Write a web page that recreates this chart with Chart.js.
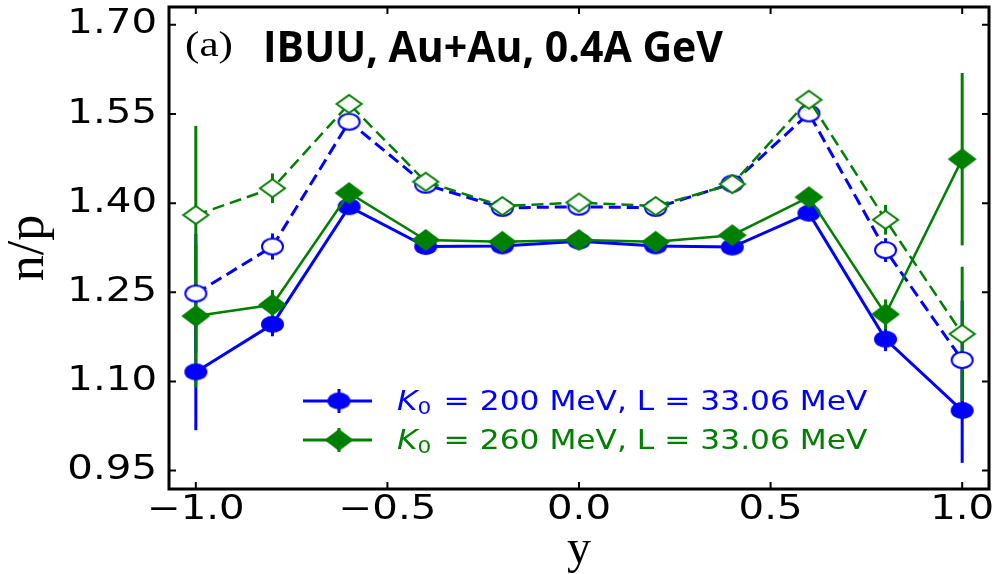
<!DOCTYPE html>
<html>
<head>
<meta charset="utf-8">
<script src="https://cdn.jsdelivr.net/npm/chart.js@4.4.0/dist/chart.umd.min.js"></script>
<style>
  html, body { margin: 0; padding: 0; background: #fff; }
</style>
</head>
<body>
<canvas id="np-chart" width="1001" height="574"></canvas>
<script>
// values
const rapidity = [-1.0, -0.8, -0.6, -0.4, -0.2, 0.0, 0.2, 0.4, 0.6, 0.8, 1.0];

// K0 = 200 MeV (blue)
const k200Solid  = [1.116, 1.196, 1.394, 1.327, 1.328, 1.336, 1.328, 1.326, 1.383, 1.171, 1.051];
const k200SolidErr = [0.098, 0.02, 0.01, 0.01, 0.01, 0.01, 0.01, 0.01, 0.01, 0.02, 0.088];
const k200Dashed = [1.248, 1.327, 1.537, 1.431, 1.392, 1.394, 1.392, 1.433, 1.551, 1.321, 1.136];
const k200DashedErr = [0.10, 0.022, 0.01, 0.01, 0.01, 0.01, 0.01, 0.01, 0.01, 0.02, 0.10];

// K0 = 260 MeV (green)
const k260Solid  = [1.210, 1.229, 1.417, 1.338, 1.335, 1.338, 1.335, 1.346, 1.410, 1.213, 1.474];
const k260SolidErr = [0.12, 0.025, 0.01, 0.01, 0.01, 0.01, 0.01, 0.01, 0.01, 0.025, 0.145];
const k260Dashed = [1.380, 1.425, 1.567, 1.436, 1.395, 1.401, 1.395, 1.432, 1.574, 1.372, 1.180];
const k260DashedErr = [0.15, 0.025, 0.01, 0.01, 0.01, 0.01, 0.01, 0.01, 0.01, 0.025, 0.113];

const xTickValues = [-1.0, -0.5, 0.0, 0.5, 1.0];
const xTickLabels = ['\u22121.0', '\u22120.5', '0.0', '0.5', '1.0'];
const yTickValues = [0.95, 1.10, 1.25, 1.40, 1.55, 1.70];
const yTickLabels = ['0.95', '1.10', '1.25', '1.40', '1.55', '1.70'];

const legendK0 = ['200', '260'];
const legendL  = '33.06';

const BLUE  = '#0000ff';
const GREEN = '#008000';

// small canvases used as point styles (the figure is stretched horizontally)
function ellipseMarker(w, h, fill, stroke, lw){
  const c = document.createElement('canvas');
  c.width = w + 2; c.height = h + 2;
  const g = c.getContext('2d');
  g.beginPath();
  g.ellipse(c.width/2, c.height/2, w/2 - lw/2, h/2 - lw/2, 0, 0, Math.PI*2);
  g.fillStyle = fill; g.fill();
  if(stroke){ g.strokeStyle = stroke; g.lineWidth = lw; g.stroke(); }
  return c;
}
function diamondMarker(w, h, fill, stroke, lw){
  const c = document.createElement('canvas');
  c.width = w + 2; c.height = h + 2;
  const g = c.getContext('2d');
  const cx = c.width/2, cy = c.height/2, a = w/2 - lw/2, b = h/2 - lw/2;
  g.beginPath();
  g.moveTo(cx, cy - b); g.lineTo(cx + a, cy); g.lineTo(cx, cy + b); g.lineTo(cx - a, cy);
  g.closePath();
  g.fillStyle = fill; g.fill();
  if(stroke){ g.strokeStyle = stroke; g.lineWidth = lw; g.lineJoin = 'miter'; g.stroke(); }
  return c;
}

const blueDot     = ellipseMarker(23, 17, BLUE, null, 0);
const blueRing    = ellipseMarker(23, 18, '#fff', BLUE, 2);
const greenDiam   = diamondMarker(29, 22, GREEN, null, 0);
const greenOpenDi = diamondMarker(27, 20, '#fff', GREEN, 2);

function pts(ys){ return rapidity.map((x, i) => ({ x, y: ys[i] })); }

const errorSets = [
  { ys: k200Solid,  err: k200SolidErr,  color: BLUE },
  { ys: k200Dashed, err: k200DashedErr, color: BLUE },
  { ys: k260Solid,  err: k260SolidErr,  color: GREEN },
  { ys: k260Dashed, err: k260DashedErr, color: GREEN }
];

// error bars go under every marker, like matplotlib
const errorBars = {
  id: 'errorBars',
  beforeDatasetsDraw(chart){
    const { ctx, scales: { x, y }, chartArea } = chart;
    ctx.save();
    ctx.beginPath();
    ctx.rect(chartArea.left, chartArea.top, chartArea.width, chartArea.height);
    ctx.clip();
    ctx.lineWidth = 3;
    errorSets.forEach(s => {
      ctx.strokeStyle = s.color;
      rapidity.forEach((xv, i) => {
        const px = x.getPixelForValue(xv);
        ctx.beginPath();
        ctx.moveTo(px, y.getPixelForValue(s.ys[i] - s.err[i]));
        ctx.lineTo(px, y.getPixelForValue(s.ys[i] + s.err[i]));
        ctx.stroke();
      });
    });
    ctx.restore();
  }
};

function stretchedText(ctx, text, x, y, sx){
  ctx.save();
  ctx.translate(x, y);
  ctx.scale(sx, 1);
  ctx.fillText(text, 0, 0);
  ctx.restore();
}
function fittedText(ctx, text, x, y, width){
  const w = ctx.measureText(text).width;
  stretchedText(ctx, text, x, y, width / w);
}

// frame, inward ticks, tick labels, legend and the panel caption
const decorations = {
  id: 'decorations',
  afterDatasetsDraw(chart){
    const { ctx, chartArea: a, scales: { x, y } } = chart;
    ctx.save();

    ctx.strokeStyle = '#000';
    ctx.lineWidth = 2;
    const tl = 7;
    x.ticks.forEach(t => {
      const px = x.getPixelForValue(t.value);
      ctx.beginPath();
      ctx.moveTo(px, a.bottom); ctx.lineTo(px, a.bottom - tl);
      ctx.moveTo(px, a.top);    ctx.lineTo(px, a.top + tl);
      ctx.stroke();
    });
    y.ticks.forEach(t => {
      const py = y.getPixelForValue(t.value);
      ctx.beginPath();
      ctx.moveTo(a.left, py);  ctx.lineTo(a.left + tl, py);
      ctx.moveTo(a.right, py); ctx.lineTo(a.right - tl, py);
      ctx.stroke();
    });
    ctx.lineWidth = 3;
    ctx.strokeRect(a.left, a.top, a.right - a.left, a.bottom - a.top);

    // tick labels
    ctx.fillStyle = '#000';
    ctx.font = '33px "DejaVu Sans"';
    ctx.textBaseline = 'middle';
    ctx.textAlign = 'center';
    x.ticks.forEach((t, i) => {
      stretchedText(ctx, xTickLabels[i], x.getPixelForValue(t.value), a.bottom + 21, 1.22);
    });
    ctx.textAlign = 'right';
    y.ticks.forEach((t, i) => {
      stretchedText(ctx, yTickLabels[i], a.left - 12, y.getPixelForValue(t.value), 1.22);
    });

    // caption
    ctx.textAlign = 'left';
    ctx.textBaseline = 'alphabetic';
    ctx.font = '36px "Liberation Serif"';
    fittedText(ctx, '(a)', 185, 56, 48);
    ctx.font = 'bold 43px "Open Sans"';
    fittedText(ctx, 'IBUU, Au+Au, 0.4A GeV', 263, 62, 460);

    // legend
    const rows = [
      { color: BLUE,  marker: blueDot,   yc: 401, k0: legendK0[0] },
      { color: GREEN, marker: greenDiam, yc: 440, k0: legendK0[1] }
    ];
    rows.forEach(r => {
      ctx.strokeStyle = r.color;
      ctx.lineWidth = 3;
      ctx.beginPath();
      ctx.moveTo(303, r.yc); ctx.lineTo(372, r.yc);
      ctx.moveTo(339, r.yc - 12); ctx.lineTo(339, r.yc + 12);
      ctx.stroke();
      ctx.drawImage(r.marker, 339 - r.marker.width/2, r.yc - r.marker.height/2);

      const parts = [
        { t: 'K', f: 'italic 26px "DejaVu Sans"', dy: 0 },
        { t: '0', f: '18px "DejaVu Sans"', dy: 4 },
        { t: ' = ' + r.k0 + ' MeV, L = ' + legendL + ' MeV', f: '26px "DejaVu Sans"', dy: 0 }
      ];
      let total = 0;
      parts.forEach(p => { ctx.font = p.f; p.w = ctx.measureText(p.t).width; total += p.w; });
      ctx.save();
      ctx.translate(397, r.yc + 9);
      ctx.scale(468 / total, 1);
      ctx.fillStyle = r.color;
      let cx = 0;
      parts.forEach(p => { ctx.font = p.f; ctx.fillText(p.t, cx, p.dy); cx += p.w + (p.t === '0' ? 2 : 0); });
      ctx.restore();
    });

    ctx.restore();
  }
};

const ctx = document.getElementById('np-chart').getContext('2d');

new Chart(ctx, {
  type: 'line',
  data: {
    datasets: [
      {
        label: 'K0=260 dashed',
        data: pts(k260Dashed),
        borderColor: GREEN, borderWidth: 2.5, borderDash: [12, 6],
        pointStyle: greenOpenDi, pointRadius: 12,
        order: 0
      },
      {
        label: 'K0=260 MeV, L=33.06 MeV',
        data: pts(k260Solid),
        borderColor: GREEN, borderWidth: 2.5,
        pointStyle: greenDiam, pointRadius: 12,
        order: 1
      },
      {
        label: 'K0=200 dashed',
        data: pts(k200Dashed),
        borderColor: BLUE, borderWidth: 3, borderDash: [12, 6],
        pointStyle: blueRing, pointRadius: 12,
        order: 2
      },
      {
        label: 'K0=200 MeV, L=33.06 MeV',
        data: pts(k200Solid),
        borderColor: BLUE, borderWidth: 3,
        pointStyle: blueDot, pointRadius: 12,
        order: 3
      }
    ]
  },
  options: {
    responsive: false,
    animation: false,
    events: [],
    layout: { autoPadding: false, padding: { left: 0, right: 12, top: 7, bottom: 0 } },
    elements: { line: { tension: 0, fill: false } },
    plugins: { legend: { display: false }, tooltip: { enabled: false } },
    scales: {
      x: {
        type: 'linear',
        min: -1.07, max: 1.07,
        grid: { display: false },
        border: { display: false },
        ticks: { display: false },
        afterBuildTicks: s => { s.ticks = xTickValues.map(v => ({ value: v })); },
        afterFit: s => { s.height = 85; },
        title: {
          display: true, text: 'y', color: '#000',
          font: { family: 'Liberation Serif', size: 48, lineHeight: 1 },
          padding: { top: 4, bottom: 0 }
        }
      },
      y: {
        type: 'linear',
        min: 0.919, max: 1.730,
        grid: { display: false },
        border: { display: false },
        ticks: { display: false },
        afterBuildTicks: s => { s.ticks = yTickValues.map(v => ({ value: v })); },
        afterFit: s => { s.width = 169; },
        title: {
          display: true, text: 'n/p', color: '#000',
          font: { family: 'Liberation Serif', size: 52, lineHeight: 1 },
          padding: { top: 3, bottom: 0 }
        }
      }
    }
  },
  plugins: [errorBars, decorations]
});
</script>
</body>
</html>
